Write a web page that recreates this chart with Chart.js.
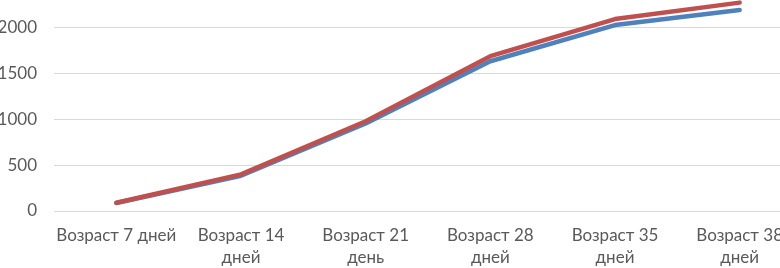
<!DOCTYPE html>
<html><head><meta charset="utf-8">
<script src="https://cdn.jsdelivr.net/npm/chart.js@4/dist/chart.umd.min.js"></script>
<style>
html,body{margin:0;padding:0;background:#fff;overflow:hidden;width:780px;height:268px;}
#wrap{position:absolute;left:0;top:-18px;width:802px;height:286px;}
</style></head><body>
<div id="wrap"><canvas id="c"></canvas></div>
<script>
const categories = [["Возраст 7 дней"],["Возраст 14","дней"],["Возраст 21","день"],["Возраст 28","дней"],["Возраст 35","дней"],["Возраст 38","дней"]];
const seriesBlue = [88, 385, 955, 1635, 2030, 2195];
const seriesRed = [90, 400, 980, 1690, 2095, 2275];
const yTicks = [0, 500, 1000, 1500, 2000, 2500];

new Chart(document.getElementById('c'), {
  type: 'line',
  data: {
    labels: categories,
    datasets: [
      {label:'1', data: seriesBlue, borderColor:'#4F81BD', borderWidth:4.5, pointRadius:0, tension:0, order:2, borderCapStyle:'round', borderJoinStyle:'round'},
      {label:'2', data: seriesRed, borderColor:'#C0504D', borderWidth:4.5, pointRadius:0, tension:0, order:1, borderCapStyle:'round', borderJoinStyle:'round'}
    ]
  },
  options: {
    responsive:true, maintainAspectRatio:false, animation:false,
    layout:{padding:{left:0,right:0,top:0,bottom:0}},
    plugins:{legend:{display:false}, tooltip:{enabled:false}},
    scales:{
      x:{
        offset:true,
        grid:{display:false, drawTicks:false},
        border:{display:false},
        ticks:{color:'#595959', font:{family:'Lato', size:17, lineHeight:1.3}, padding:13, maxRotation:0, autoSkip:false},
        afterFit(s){ s.height = 57; }
      },
      y:{
        min:0, max:2500,
        afterBuildTicks(s){ s.ticks = yTicks.map(v=>({value:v})); },
        grid:{color:'#d9d9d9', lineWidth:1, drawTicks:false},
        border:{display:false},
        ticks:{color:'#595959', font:{family:'Lato', size:17}, padding:17, callback:(v)=>String(v)},
        afterFit(s){ s.width = 54; s.paddingTop = 0; s.paddingBottom = 0; }
      }
    }
  }
});
</script></body></html>
